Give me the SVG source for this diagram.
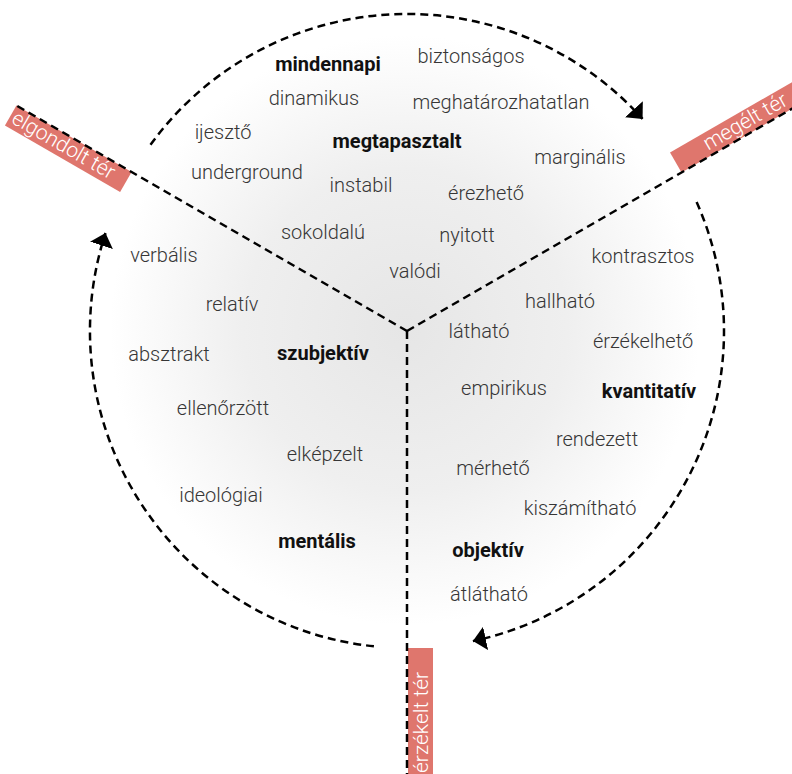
<svg xmlns="http://www.w3.org/2000/svg" width="792" height="774" viewBox="0 0 792 774">
<defs>
<radialGradient id="glow" cx="405" cy="330" r="295" gradientUnits="userSpaceOnUse">
<stop offset="0" stop-color="#e6e6e6"/>
<stop offset="0.55" stop-color="#efefef"/>
<stop offset="1" stop-color="#ffffff"/>
</radialGradient>
<marker id="ah" markerUnits="userSpaceOnUse" viewBox="-13 -12 13 24" refX="0" refY="0" markerWidth="13" markerHeight="24" orient="auto">
<path d="M0,0 L-13,-12 L-13,12 Z" fill="#000"/>
</marker>
<style>
.t{font-family:Roboto,"Liberation Sans",sans-serif;font-size:20px;font-weight:300;fill:#363636;text-anchor:middle}
.b{font-weight:700;fill:#111}
.lab{fill:#df766d}
.lt{font-family:Roboto,"Liberation Sans",sans-serif;font-size:21px;font-weight:300;fill:#fff}
.dash{fill:none;stroke:#000;stroke-width:2.5;stroke-dasharray:8 5}
</style>
</defs>
<rect width="792" height="774" fill="#fff"/>
<circle cx="405" cy="330" r="295" fill="url(#glow)"/>

<g id="label-elgondolt" transform="translate(407,331) rotate(30)">
<rect class="lab" x="-451" y="0" width="133" height="23"/>
<text class="lt" x="-448" y="17.5">elgondolt tér</text>
</g>
<g id="label-megelt" transform="translate(407,331) rotate(-30)">
<rect class="lab" x="317" y="-23" width="150" height="23"/>
<text class="lt" x="351" y="-5.5">megélt tér</text>
</g>
<g id="label-erzekelt" transform="translate(407,331) rotate(-90)">
<rect class="lab" x="-450" y="1" width="133" height="25"/>
<text class="lt" x="-442" y="20.5">érzékelt tér</text>
</g>

<g id="connectors">
<path class="dash" d="M407,331 L17.3,106"/>
<path class="dash" d="M407,331 L805,101.2"/>
<path class="dash" d="M407,331 L407,774"/>
<path class="dash" d="M150.5,144.7 A317,317 0 0 1 642.6,118.9" marker-end="url(#ah)"/>
<path class="dash" d="M696.6,202.1 A317,317 0 0 1 472.9,641.1" marker-end="url(#ah)"/>
<path class="dash" d="M373.9,646.3 A317,317 0 0 1 105.5,233" marker-end="url(#ah)"/>
</g>

<g id="words-top">
<text class="t b" x="328" y="71">mindennapi</text>
<text class="t" x="471" y="63">biztonságos</text>
<text class="t" x="314" y="105">dinamikus</text>
<text class="t" x="501" y="109">meghatározhatatlan</text>
<text class="t" x="223" y="139">ijesztő</text>
<text class="t b" x="397" y="148">megtapasztalt</text>
<text class="t" x="580" y="164">marginális</text>
<text class="t" x="247" y="179">underground</text>
<text class="t" x="361" y="192">instabil</text>
<text class="t" x="486" y="200">érezhető</text>
<text class="t" x="323" y="239">sokoldalú</text>
<text class="t" x="467" y="242">nyitott</text>
<text class="t" x="415" y="278">valódi</text>
</g>
<g id="words-left">
<text class="t" x="164" y="262">verbális</text>
<text class="t" x="232" y="311">relatív</text>
<text class="t" x="169" y="361">absztrakt</text>
<text class="t b" x="323" y="360">szubjektív</text>
<text class="t" x="223" y="415">ellenőrzött</text>
<text class="t" x="325" y="461">elképzelt</text>
<text class="t" x="221" y="502">ideológiai</text>
<text class="t b" x="317" y="548">mentális</text>
</g>
<g id="words-right">
<text class="t" x="643" y="263">kontrasztos</text>
<text class="t" x="560" y="308">hallható</text>
<text class="t" x="479" y="338">látható</text>
<text class="t" x="643" y="348">érzékelhető</text>
<text class="t" x="504" y="395">empirikus</text>
<text class="t b" x="649" y="398">kvantitatív</text>
<text class="t" x="597" y="446">rendezett</text>
<text class="t" x="493" y="475">mérhető</text>
<text class="t" x="580" y="515">kiszámítható</text>
<text class="t b" x="488" y="557">objektív</text>
<text class="t" x="489" y="601">átlátható</text>
</g>
</svg>
